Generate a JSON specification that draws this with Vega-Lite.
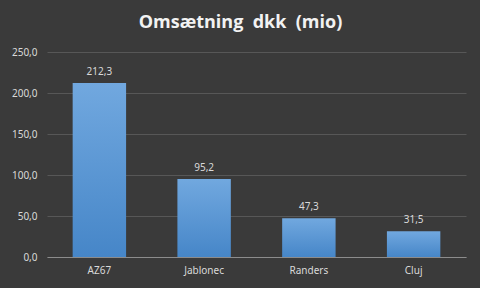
{
  "$schema": "https://vega.github.io/schema/vega-lite/v6.json",
  "width": 419,
  "height": 205,
  "autosize": {"type": "none"},
  "padding": {"left": 47, "top": 52, "right": 14, "bottom": 31},
  "background": "#3a3a3a",
  "config": {
    "locale": {"number": {"decimal": ",", "thousands": ".", "grouping": [3], "currency": ["", " kr"]}},
    "view": {"stroke": null},
    "font": "Noto Sans"
  },
  "title": {
    "text": "Omsætning\u00a0 dkk\u00a0 (mio)",
    "color": "#f2f2f2",
    "fontSize": 18,
    "fontWeight": "bold",
    "font": "Open Sans",
    "anchor": "middle",
    "dx": -16,
    "offset": 15
  },
  "data": {
    "values": [
      {"site": "AZ67", "value": 212.3},
      {"site": "Jablonec", "value": 95.2},
      {"site": "Randers", "value": 47.3},
      {"site": "Cluj", "value": 31.5}
    ]
  },
  "encoding": {
    "x": {
      "field": "site", "type": "nominal", "sort": null,
      "scale": {"paddingInner": 0.49, "paddingOuter": 0.245},
      "axis": {
        "title": null, "labelAngle": 0, "labelColor": "#d9d9d9", "labelFontSize": 10,
        "labelPadding": 8, "ticks": false, "domainColor": "#8c8c8c", "domainWidth": 1, "grid": false
      }
    },
    "y": {
      "field": "value", "type": "quantitative",
      "scale": {"domain": [0, 250]},
      "axis": {
        "title": null, "values": [0, 50, 100, 150, 200, 250], "format": ".1f",
        "labelColor": "#d9d9d9", "labelFontSize": 10, "labelPadding": 10,
        "ticks": false, "domain": false, "gridColor": "#575757", "gridWidth": 1
      }
    }
  },
  "layer": [
    {
      "mark": {
        "type": "bar",
        "color": {
          "gradient": "linear", "x1": 0, "y1": 0, "x2": 0, "y2": 1,
          "stops": [{"offset": 0, "color": "#71a8df"}, {"offset": 1, "color": "#4686c8"}]
        }
      }
    },
    {
      "mark": {"type": "text", "dy": -11, "color": "#d9d9d9", "fontSize": 10},
      "encoding": {"text": {"field": "value", "type": "quantitative", "format": ".1f"}}
    }
  ]
}
